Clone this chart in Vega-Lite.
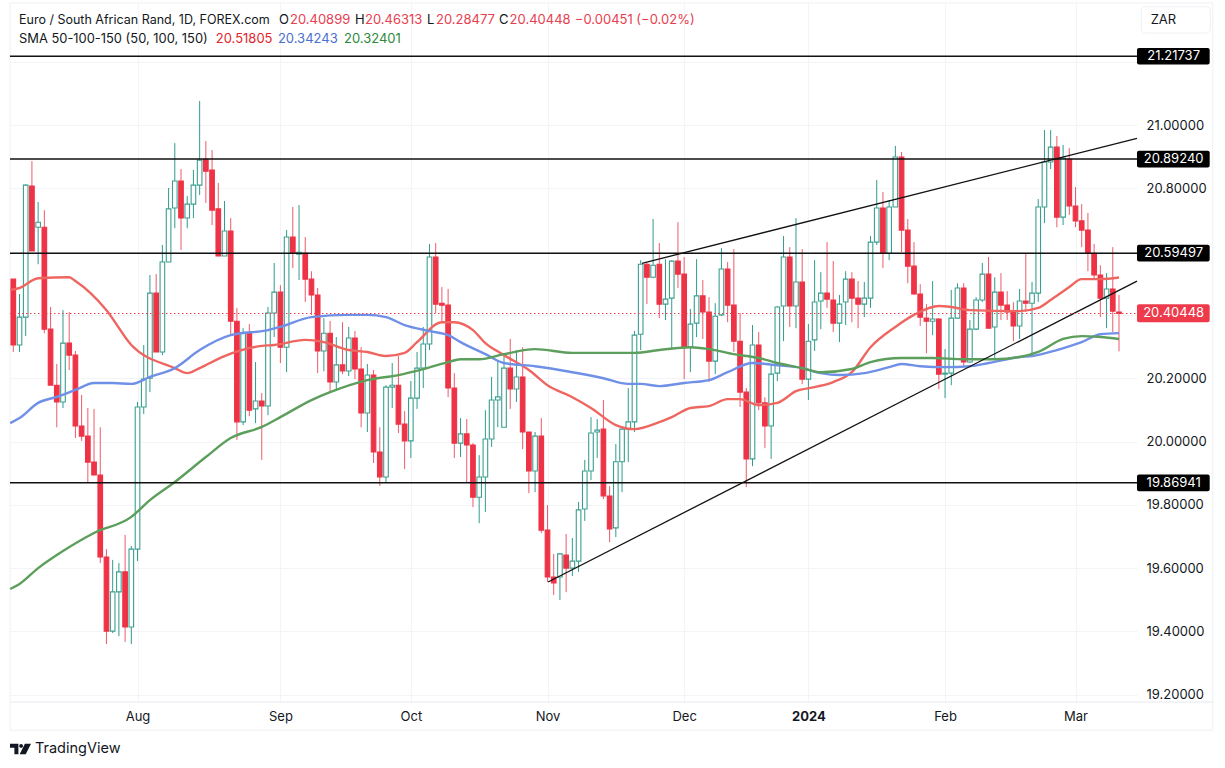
{"$schema":"https://vega.github.io/schema/vega-lite/v6.json","width":1127,"height":699,"autosize":{"type":"none"},"padding":{"left":10,"top":3,"right":88,"bottom":66},"background":"white","view":{"stroke":null},"config":{"font":"Inter","axis":{"labelFont":"Inter","labelFontSize":13,"labelColor":"#131722","gridColor":"#f2f4f8","gridWidth":1,"ticks":false,"domain":false,"title":null}},
"resolve":{"axis":{"x":"independent","y":"independent"}},
"datasets":{
"candles":[
{"i":0,"o":20.513,"h":20.513,"l":20.283,"c":20.305},{"i":1,"o":20.305,"h":20.466,"l":20.283,"c":20.393},{"i":2,"o":20.393,"h":20.813,"l":20.333,"c":20.810},{"i":3,"o":20.807,"h":20.886,"l":20.602,"c":20.602},{"i":4,"o":20.677,"h":20.757,"l":20.560,"c":20.693},{"i":5,"o":20.677,"h":20.731,"l":20.342,"c":20.355},{"i":6,"o":20.355,"h":20.425,"l":20.178,"c":20.178},{"i":7,"o":20.178,"h":20.245,"l":20.045,"c":20.125},{"i":8,"o":20.125,"h":20.415,"l":20.106,"c":20.311},{"i":9,"o":20.311,"h":20.409,"l":20.226,"c":20.273},
{"i":10,"o":20.273,"h":20.286,"l":20.011,"c":20.049},{"i":11,"o":20.049,"h":20.147,"l":20.002,"c":20.017},{"i":12,"o":20.017,"h":20.106,"l":19.872,"c":19.935},{"i":13,"o":19.935,"h":20.103,"l":19.894,"c":19.894},{"i":14,"o":19.894,"h":20.045,"l":19.616,"c":19.635},{"i":15,"o":19.635,"h":19.660,"l":19.360,"c":19.401},{"i":16,"o":19.401,"h":19.626,"l":19.395,"c":19.525},{"i":17,"o":19.525,"h":19.616,"l":19.385,"c":19.588},{"i":18,"o":19.588,"h":19.705,"l":19.367,"c":19.414},{"i":19,"o":19.414,"h":19.670,"l":19.360,"c":19.660},
{"i":20,"o":19.660,"h":20.125,"l":19.622,"c":20.109},{"i":21,"o":20.109,"h":20.305,"l":20.087,"c":20.197},{"i":22,"o":20.200,"h":20.526,"l":20.156,"c":20.469},{"i":23,"o":20.469,"h":20.529,"l":20.283,"c":20.283},{"i":24,"o":20.283,"h":20.621,"l":20.273,"c":20.567},{"i":25,"o":20.567,"h":20.801,"l":20.567,"c":20.735},{"i":26,"o":20.738,"h":20.943,"l":20.674,"c":20.823},{"i":27,"o":20.823,"h":20.861,"l":20.605,"c":20.706},{"i":28,"o":20.706,"h":20.776,"l":20.674,"c":20.750},{"i":29,"o":20.750,"h":20.858,"l":20.706,"c":20.810},
{"i":30,"o":20.810,"h":21.076,"l":20.779,"c":20.889},{"i":31,"o":20.892,"h":20.949,"l":20.754,"c":20.854},{"i":32,"o":20.858,"h":20.921,"l":20.684,"c":20.731},{"i":33,"o":20.735,"h":20.817,"l":20.586,"c":20.586},{"i":34,"o":20.586,"h":20.760,"l":20.586,"c":20.665},{"i":35,"o":20.665,"h":20.706,"l":20.336,"c":20.380},{"i":36,"o":20.380,"h":20.422,"l":20.005,"c":20.062},{"i":37,"o":20.062,"h":20.358,"l":20.052,"c":20.342},{"i":38,"o":20.342,"h":20.371,"l":20.080,"c":20.099},{"i":39,"o":20.103,"h":20.251,"l":20.058,"c":20.128},
{"i":40,"o":20.128,"h":20.153,"l":19.942,"c":20.112},{"i":41,"o":20.112,"h":20.425,"l":20.083,"c":20.406},{"i":42,"o":20.406,"h":20.564,"l":20.330,"c":20.472},{"i":43,"o":20.472,"h":20.494,"l":20.248,"c":20.298},{"i":44,"o":20.298,"h":20.668,"l":20.219,"c":20.646},{"i":45,"o":20.646,"h":20.741,"l":20.548,"c":20.595},{"i":46,"o":20.592,"h":20.747,"l":20.510,"c":20.598},{"i":47,"o":20.595,"h":20.646,"l":20.441,"c":20.513},{"i":48,"o":20.513,"h":20.538,"l":20.400,"c":20.463},{"i":49,"o":20.463,"h":20.485,"l":20.216,"c":20.286},
{"i":50,"o":20.286,"h":20.390,"l":20.222,"c":20.342},{"i":51,"o":20.342,"h":20.381,"l":20.153,"c":20.188},{"i":52,"o":20.188,"h":20.330,"l":20.160,"c":20.242},{"i":53,"o":20.242,"h":20.377,"l":20.213,"c":20.223},{"i":54,"o":20.223,"h":20.362,"l":20.207,"c":20.327},{"i":55,"o":20.327,"h":20.349,"l":20.197,"c":20.229},{"i":56,"o":20.229,"h":20.298,"l":20.045,"c":20.090},{"i":57,"o":20.090,"h":20.245,"l":20.030,"c":20.210},{"i":58,"o":20.210,"h":20.226,"l":19.932,"c":19.967},{"i":59,"o":19.967,"h":20.045,"l":19.860,"c":19.888},
{"i":60,"o":19.888,"h":20.178,"l":19.869,"c":20.172},{"i":61,"o":20.172,"h":20.248,"l":20.106,"c":20.178},{"i":62,"o":20.178,"h":20.270,"l":20.027,"c":20.055},{"i":63,"o":20.055,"h":20.096,"l":19.913,"c":20.002},{"i":64,"o":20.002,"h":20.191,"l":19.948,"c":20.137},{"i":65,"o":20.137,"h":20.283,"l":20.103,"c":20.232},{"i":66,"o":20.232,"h":20.362,"l":20.169,"c":20.308},{"i":67,"o":20.308,"h":20.624,"l":20.289,"c":20.583},{"i":68,"o":20.583,"h":20.627,"l":20.406,"c":20.434},{"i":69,"o":20.437,"h":20.488,"l":20.374,"c":20.431},
{"i":70,"o":20.431,"h":20.482,"l":20.140,"c":20.169},{"i":71,"o":20.169,"h":20.216,"l":19.948,"c":19.995},{"i":72,"o":19.995,"h":20.074,"l":19.951,"c":20.024},{"i":73,"o":20.024,"h":20.071,"l":19.869,"c":19.989},{"i":74,"o":19.989,"h":19.995,"l":19.793,"c":19.824},{"i":75,"o":19.824,"h":19.957,"l":19.742,"c":19.888},{"i":76,"o":19.888,"h":20.099,"l":19.777,"c":20.008},{"i":77,"o":20.008,"h":20.204,"l":19.983,"c":20.131},{"i":78,"o":20.131,"h":20.257,"l":20.045,"c":20.141},{"i":79,"o":20.045,"h":20.276,"l":20.045,"c":20.232},
{"i":80,"o":20.232,"h":20.324,"l":20.103,"c":20.166},{"i":81,"o":20.166,"h":20.289,"l":20.125,"c":20.204},{"i":82,"o":20.204,"h":20.298,"l":19.976,"c":20.030},{"i":83,"o":20.030,"h":20.030,"l":19.837,"c":19.907},{"i":84,"o":19.907,"h":20.030,"l":19.840,"c":20.017},{"i":85,"o":20.017,"h":20.074,"l":19.711,"c":19.720},{"i":86,"o":19.720,"h":19.799,"l":19.556,"c":19.572},{"i":87,"o":19.572,"h":19.645,"l":19.515,"c":19.553},{"i":88,"o":19.572,"h":19.648,"l":19.499,"c":19.645},{"i":89,"o":19.641,"h":19.708,"l":19.524,"c":19.600},
{"i":90,"o":19.600,"h":19.695,"l":19.575,"c":19.622},{"i":91,"o":19.622,"h":19.809,"l":19.588,"c":19.784},{"i":92,"o":19.787,"h":19.942,"l":19.749,"c":19.907},{"i":93,"o":19.907,"h":20.077,"l":19.878,"c":20.027},{"i":94,"o":20.030,"h":20.071,"l":19.948,"c":20.036},{"i":95,"o":20.039,"h":20.131,"l":19.818,"c":19.828},{"i":96,"o":19.828,"h":19.859,"l":19.682,"c":19.724},{"i":97,"o":19.727,"h":19.992,"l":19.698,"c":19.936},{"i":98,"o":19.936,"h":20.042,"l":19.840,"c":20.039},{"i":99,"o":20.039,"h":20.169,"l":19.935,"c":20.062},
{"i":100,"o":20.062,"h":20.349,"l":20.030,"c":20.336},{"i":101,"o":20.339,"h":20.573,"l":20.289,"c":20.560},{"i":102,"o":20.560,"h":20.564,"l":20.434,"c":20.519},{"i":103,"o":20.519,"h":20.703,"l":20.516,"c":20.557},{"i":104,"o":20.560,"h":20.627,"l":20.390,"c":20.434},{"i":105,"o":20.434,"h":20.576,"l":20.384,"c":20.450},{"i":106,"o":20.453,"h":20.573,"l":20.295,"c":20.570},{"i":107,"o":20.570,"h":20.693,"l":20.485,"c":20.529},{"i":108,"o":20.529,"h":20.583,"l":20.197,"c":20.298},{"i":109,"o":20.298,"h":20.419,"l":20.219,"c":20.371},
{"i":110,"o":20.374,"h":20.576,"l":20.330,"c":20.460},{"i":111,"o":20.460,"h":20.510,"l":20.324,"c":20.409},{"i":112,"o":20.409,"h":20.456,"l":20.188,"c":20.254},{"i":113,"o":20.254,"h":20.437,"l":20.213,"c":20.396},{"i":114,"o":20.400,"h":20.611,"l":20.396,"c":20.545},{"i":115,"o":20.545,"h":20.567,"l":20.377,"c":20.431},{"i":116,"o":20.431,"h":20.608,"l":20.283,"c":20.317},{"i":117,"o":20.317,"h":20.406,"l":20.109,"c":20.156},{"i":118,"o":20.156,"h":20.169,"l":19.856,"c":19.945},{"i":119,"o":19.945,"h":20.368,"l":19.922,"c":20.305},
{"i":120,"o":20.305,"h":20.346,"l":20.099,"c":20.122},{"i":121,"o":20.122,"h":20.140,"l":19.979,"c":20.049},{"i":122,"o":20.049,"h":20.242,"l":19.945,"c":20.213},{"i":123,"o":20.216,"h":20.428,"l":20.191,"c":20.425},{"i":124,"o":20.428,"h":20.649,"l":20.317,"c":20.583},{"i":125,"o":20.583,"h":20.614,"l":20.362,"c":20.428},{"i":126,"o":20.428,"h":20.706,"l":20.358,"c":20.504},{"i":127,"o":20.504,"h":20.608,"l":20.181,"c":20.197},{"i":128,"o":20.197,"h":20.371,"l":20.131,"c":20.317},{"i":129,"o":20.321,"h":20.573,"l":20.286,"c":20.441},
{"i":130,"o":20.444,"h":20.535,"l":20.355,"c":20.469},{"i":131,"o":20.469,"h":20.630,"l":20.422,"c":20.450},{"i":132,"o":20.447,"h":20.570,"l":20.346,"c":20.374},{"i":133,"o":20.374,"h":20.463,"l":20.314,"c":20.434},{"i":134,"o":20.441,"h":20.538,"l":20.368,"c":20.513},{"i":135,"o":20.513,"h":20.535,"l":20.377,"c":20.453},{"i":136,"o":20.453,"h":20.507,"l":20.358,"c":20.434},{"i":137,"o":20.434,"h":20.504,"l":20.393,"c":20.453},{"i":138,"o":20.453,"h":20.649,"l":20.422,"c":20.630},{"i":139,"o":20.630,"h":20.826,"l":20.621,"c":20.738},
{"i":140,"o":20.738,"h":20.788,"l":20.548,"c":20.595},{"i":141,"o":20.595,"h":20.763,"l":20.573,"c":20.741},{"i":142,"o":20.741,"h":20.934,"l":20.741,"c":20.899},{"i":143,"o":20.899,"h":20.915,"l":20.598,"c":20.668},{"i":144,"o":20.668,"h":20.703,"l":20.500,"c":20.554},{"i":145,"o":20.554,"h":20.630,"l":20.463,"c":20.466},{"i":146,"o":20.466,"h":20.497,"l":20.365,"c":20.393},{"i":147,"o":20.390,"h":20.434,"l":20.279,"c":20.380},{"i":148,"o":20.380,"h":20.507,"l":20.336,"c":20.387},{"i":149,"o":20.387,"h":20.390,"l":20.166,"c":20.213},
{"i":150,"o":20.213,"h":20.292,"l":20.137,"c":20.216},{"i":151,"o":20.216,"h":20.479,"l":20.178,"c":20.390},{"i":152,"o":20.390,"h":20.500,"l":20.390,"c":20.485},{"i":153,"o":20.485,"h":20.500,"l":20.235,"c":20.251},{"i":154,"o":20.251,"h":20.384,"l":20.248,"c":20.355},{"i":155,"o":20.355,"h":20.456,"l":20.352,"c":20.447},{"i":156,"o":20.447,"h":20.564,"l":20.441,"c":20.529},{"i":157,"o":20.529,"h":20.583,"l":20.358,"c":20.358},{"i":158,"o":20.362,"h":20.519,"l":20.260,"c":20.472},{"i":159,"o":20.472,"h":20.532,"l":20.384,"c":20.431},
{"i":160,"o":20.431,"h":20.475,"l":20.384,"c":20.409},{"i":161,"o":20.409,"h":20.440,"l":20.317,"c":20.365},{"i":162,"o":20.365,"h":20.482,"l":20.324,"c":20.444},{"i":163,"o":20.444,"h":20.595,"l":20.409,"c":20.437},{"i":164,"o":20.437,"h":20.504,"l":20.270,"c":20.469},{"i":165,"o":20.469,"h":20.766,"l":20.441,"c":20.741},{"i":166,"o":20.741,"h":20.984,"l":20.690,"c":20.883},{"i":167,"o":20.883,"h":20.984,"l":20.861,"c":20.930},{"i":168,"o":20.930,"h":20.965,"l":20.677,"c":20.709},{"i":169,"o":20.709,"h":20.937,"l":20.684,"c":20.896},
{"i":170,"o":20.892,"h":20.927,"l":20.716,"c":20.744},{"i":171,"o":20.744,"h":20.804,"l":20.677,"c":20.697},{"i":172,"o":20.697,"h":20.750,"l":20.614,"c":20.668},{"i":173,"o":20.668,"h":20.722,"l":20.538,"c":20.595},{"i":174,"o":20.595,"h":20.624,"l":20.513,"c":20.526},{"i":175,"o":20.526,"h":20.557,"l":20.393,"c":20.453},{"i":176,"o":20.453,"h":20.532,"l":20.358,"c":20.482},{"i":177,"o":20.482,"h":20.614,"l":20.346,"c":20.412},{"i":178,"o":20.40899,"h":20.46313,"l":20.28477,"c":20.40448}
],
"sma":[
{"s":"50","i":-0.5,"p":20.479},{"s":"50","i":1,"p":20.485},{"s":"50","i":4,"p":20.516},{"s":"50","i":9,"p":20.519},{"s":"50","i":10,"p":20.507},{"s":"50","i":15,"p":20.415},{"s":"50","i":19,"p":20.305},{"s":"50","i":26,"p":20.232},{"s":"50","i":28,"p":20.216},{"s":"50","i":30,"p":20.232},{"s":"50","i":34,"p":20.270},{"s":"50","i":40,"p":20.302},{"s":"50","i":42,"p":20.305},{"s":"50","i":47,"p":20.321},{"s":"50","i":50,"p":20.314},{"s":"50","i":54,"p":20.289},{"s":"50","i":57,"p":20.283},{"s":"50","i":60,"p":20.270},{"s":"50","i":63,"p":20.280},{"s":"50","i":65,"p":20.314},{"s":"50","i":69,"p":20.377},{"s":"50","i":71,"p":20.377},{"s":"50","i":74,"p":20.352},{"s":"50","i":76,"p":20.311},{"s":"50","i":79,"p":20.273},{"s":"50","i":83,"p":20.226},{"s":"50","i":86,"p":20.178},{"s":"50","i":90,"p":20.140},{"s":"50","i":93,"p":20.106},{"s":"50","i":97,"p":20.052},{"s":"50","i":100,"p":20.039},{"s":"50","i":104,"p":20.061},{"s":"50","i":106,"p":20.077},{"s":"50","i":109,"p":20.106},{"s":"50","i":112,"p":20.112},{"s":"50","i":115,"p":20.134},{"s":"50","i":117,"p":20.134},{"s":"50","i":120,"p":20.115},{"s":"50","i":123,"p":20.122},{"s":"50","i":126,"p":20.159},{"s":"50","i":129,"p":20.172},{"s":"50","i":132,"p":20.188},{"s":"50","i":135,"p":20.219},{"s":"50","i":138,"p":20.298},{"s":"50","i":142,"p":20.362},{"s":"50","i":145,"p":20.400},{"s":"50","i":149,"p":20.428},{"s":"50","i":151,"p":20.425},{"s":"50","i":154,"p":20.415},{"s":"50","i":162,"p":20.412},{"s":"50","i":165,"p":20.422},{"s":"50","i":167,"p":20.447},{"s":"50","i":170,"p":20.488},{"s":"50","i":172,"p":20.513},{"s":"50","i":175,"p":20.513},{"s":"50","i":178,"p":20.51805},
{"s":"100","i":-0.5,"p":20.058},{"s":"100","i":1,"p":20.074},{"s":"100","i":4,"p":20.122},{"s":"100","i":7,"p":20.141},{"s":"100","i":10,"p":20.163},{"s":"100","i":13,"p":20.185},{"s":"100","i":16,"p":20.185},{"s":"100","i":19,"p":20.182},{"s":"100","i":22,"p":20.204},{"s":"100","i":26,"p":20.232},{"s":"100","i":30,"p":20.289},{"s":"100","i":35,"p":20.336},{"s":"100","i":41,"p":20.352},{"s":"100","i":43,"p":20.362},{"s":"100","i":48,"p":20.393},{"s":"100","i":54,"p":20.400},{"s":"100","i":57,"p":20.400},{"s":"100","i":60,"p":20.393},{"s":"100","i":63,"p":20.368},{"s":"100","i":67,"p":20.349},{"s":"100","i":70,"p":20.336},{"s":"100","i":72,"p":20.314},{"s":"100","i":76,"p":20.276},{"s":"100","i":79,"p":20.248},{"s":"100","i":84,"p":20.238},{"s":"100","i":90,"p":20.219},{"s":"100","i":95,"p":20.200},{"s":"100","i":99,"p":20.182},{"s":"100","i":101,"p":20.182},{"s":"100","i":104,"p":20.175},{"s":"100","i":108,"p":20.185},{"s":"100","i":112,"p":20.194},{"s":"100","i":115,"p":20.219},{"s":"100","i":119,"p":20.248},{"s":"100","i":123,"p":20.241},{"s":"100","i":127,"p":20.232},{"s":"100","i":130,"p":20.216},{"s":"100","i":133,"p":20.210},{"s":"100","i":137,"p":20.216},{"s":"100","i":141,"p":20.235},{"s":"100","i":143,"p":20.245},{"s":"100","i":146,"p":20.238},{"s":"100","i":150,"p":20.235},{"s":"100","i":154,"p":20.238},{"s":"100","i":157,"p":20.248},{"s":"100","i":162,"p":20.267},{"s":"100","i":164,"p":20.270},{"s":"100","i":168,"p":20.289},{"s":"100","i":172,"p":20.314},{"s":"100","i":175,"p":20.339},{"s":"100","i":178,"p":20.34243},
{"s":"150","i":-0.5,"p":19.534},{"s":"150","i":1,"p":19.550},{"s":"150","i":4,"p":19.600},{"s":"150","i":8,"p":19.654},{"s":"150","i":13,"p":19.711},{"s":"150","i":19,"p":19.762},{"s":"150","i":22,"p":19.815},{"s":"150","i":26,"p":19.872},{"s":"150","i":31,"p":19.951},{"s":"150","i":35,"p":20.011},{"s":"150","i":40,"p":20.046},{"s":"150","i":43,"p":20.077},{"s":"150","i":48,"p":20.131},{"s":"150","i":51,"p":20.156},{"s":"150","i":57,"p":20.194},{"s":"150","i":62,"p":20.210},{"s":"150","i":66,"p":20.229},{"s":"150","i":70,"p":20.251},{"s":"150","i":72,"p":20.260},{"s":"150","i":75,"p":20.260},{"s":"150","i":79,"p":20.276},{"s":"150","i":84,"p":20.292},{"s":"150","i":90,"p":20.280},{"s":"150","i":95,"p":20.280},{"s":"150","i":100,"p":20.280},{"s":"150","i":104,"p":20.289},{"s":"150","i":109,"p":20.298},{"s":"150","i":112,"p":20.292},{"s":"150","i":116,"p":20.276},{"s":"150","i":120,"p":20.264},{"s":"150","i":123,"p":20.248},{"s":"150","i":127,"p":20.232},{"s":"150","i":130,"p":20.219},{"s":"150","i":135,"p":20.229},{"s":"150","i":138,"p":20.251},{"s":"150","i":143,"p":20.264},{"s":"150","i":148,"p":20.264},{"s":"150","i":153,"p":20.260},{"s":"150","i":158,"p":20.260},{"s":"150","i":162,"p":20.267},{"s":"150","i":165,"p":20.283},{"s":"150","i":169,"p":20.324},{"s":"150","i":172,"p":20.333},{"s":"150","i":175,"p":20.330},{"s":"150","i":178,"p":20.32401}
],
"levels":[
{"a":-0.53,"b":180.9,"e":192.6,"m":186.8,"p":21.21737,"top":21.2437,"bot":21.1911},
{"a":-0.53,"b":180.9,"e":192.6,"m":186.8,"p":20.8924,"top":20.9187,"bot":20.8661},
{"a":-0.53,"b":180.9,"e":192.6,"m":186.8,"p":20.59497,"top":20.6213,"bot":20.5687},
{"a":-0.53,"b":180.9,"e":192.6,"m":186.8,"p":19.86941,"top":19.8957,"bot":19.8431}
],
"last":[{"a":-0.53,"b":180.9,"e":192.6,"m":186.8,"p":20.40448,"top":20.4335,"bot":20.3767}],
"trends":[{"i":101.2,"p":20.563,"i2":180.9,"p2":20.958},{"i":86.1,"p":19.556,"i2":180.9,"p2":20.507}],
"frame":[{"a":-0.53,"b":193.1,"top":21.3855,"bot":19.088,"mid":19.177}],
"zar":[{"a":181.6,"b":192.7,"top":21.3738,"bot":21.2907,"i":183.1,"p":21.3318,"t":"ZAR"}],
"header":[
{"i":0.92,"p":21.3318,"t":"Euro / South African Rand, 1D, FOREX.com","s":"text"},
{"i":42.77,"p":21.3318,"t":"O","s":"text"},{"i":44.54,"p":21.3318,"t":"20.40899","s":"value"},
{"i":55.0,"p":21.3318,"t":"H","s":"text"},{"i":56.62,"p":21.3318,"t":"20.46313","s":"value"},
{"i":66.6,"p":21.3318,"t":"L","s":"text"},{"i":68.05,"p":21.3318,"t":"20.28477","s":"value"},
{"i":78.2,"p":21.3318,"t":"C","s":"text"},{"i":79.9,"p":21.3318,"t":"20.40448","s":"value"},
{"i":90.4,"p":21.3318,"t":"−0.00451 (−0.02%)","s":"value"},
{"i":0.92,"p":21.2717,"t":"SMA 50-100-150 (50, 100, 150)","s":"text"},
{"i":32.6,"p":21.2717,"t":"20.51805","s":"50"},{"i":42.6,"p":21.2717,"t":"20.34243","s":"100"},{"i":53.24,"p":21.2717,"t":"20.32401","s":"150"}
],
"brand":[{"i":3.49,"p":19.0284,"t":"TradingView"}],
"logo":[{"i":1.16,"p":19.0284}]
},
"layer":[
{"data":{"name":"frame"},"mark":{"type":"rect","fillOpacity":0,"stroke":"#eef0f4","strokeWidth":1},
"encoding":{
"x":{"field":"a","type":"quantitative","scale":{"domain":[-0.53,180.9],"nice":false,"zero":false,"padding":0},
"axis":{"orient":"bottom","grid":true,"values":[20,43,64,86,108,128,150,171],"labelExpr":"{20:'Aug',43:'Sep',64:'Oct',86:'Nov',108:'Dec',128:'2024',150:'Feb',171:'Mar'}[datum.value]","labelPadding":8,"labelFontWeight":{"condition":{"test":"datum.value==128","value":"bold"},"value":"normal"}}},
"x2":{"field":"b"},
"y":{"field":"top","type":"quantitative","scale":{"domain":[19.177,21.3855],"nice":false,"zero":false},
"axis":{"orient":"right","grid":true,"values":[19.2,19.4,19.6,19.8,20,20.2,20.4,20.6,20.8,21,21.2],"labelExpr":"abs(datum.value-20.6)<0.01||abs(datum.value-20.4)<0.01||abs(datum.value-21.2)<0.01?'':format(datum.value,'.5f')","labelPadding":9}},
"y2":{"field":"bot"}}},
{"data":{"name":"frame"},"mark":{"type":"rule","color":"#e6e8ee","strokeWidth":1},"encoding":{"x":{"field":"a","type":"quantitative","axis":null},"x2":{"field":"b"},"y":{"field":"mid","type":"quantitative","axis":null}}},
{"data":{"name":"candles"},"mark":{"type":"rule","strokeWidth":1},"encoding":{"x":{"field":"i","type":"quantitative","axis":null},"y":{"field":"l","type":"quantitative","axis":null},"y2":{"field":"h"},
"stroke":{"condition":{"test":"datum.c>=datum.o","value":"#2f9c8c"},"value":"#ee5a69"}}},
{"data":{"name":"candles"},"mark":{"type":"bar","size":4.6,"strokeWidth":1.1},"encoding":{"x":{"field":"i","type":"quantitative","axis":null},"y":{"field":"o","type":"quantitative","axis":null},"y2":{"field":"c"},
"fill":{"condition":{"test":"datum.c>=datum.o","value":"white"},"value":"#ee3346"},
"stroke":{"condition":{"test":"datum.c>=datum.o","value":"#3b9f90"},"value":"#ee3346"}}},
{"data":{"name":"sma"},"mark":{"type":"line","strokeWidth":2.4,"interpolate":"monotone"},"encoding":{"x":{"field":"i","type":"quantitative","axis":null},"y":{"field":"p","type":"quantitative","axis":null},"detail":{"field":"s"},
"stroke":{"field":"s","type":"nominal","legend":null,"scale":{"domain":["50","100","150"],"range":["#ef6661","#7090e8","#5c9e5c"]}}}},
{"data":{"name":"levels"},"mark":{"type":"rule","color":"#111111","strokeWidth":1.5},"encoding":{"x":{"field":"a","type":"quantitative","axis":null},"x2":{"field":"b"},"y":{"field":"p","type":"quantitative","axis":null}}},
{"data":{"name":"trends"},"mark":{"type":"rule","color":"#111111","strokeWidth":1.3},"encoding":{"x":{"field":"i","type":"quantitative","axis":null},"x2":{"field":"i2"},"y":{"field":"p","type":"quantitative","axis":null},"y2":{"field":"p2"}}},
{"data":{"name":"last"},"mark":{"type":"rule","color":"#e8404f","strokeWidth":1.2,"strokeDash":[1.5,2.5]},"encoding":{"x":{"field":"a","type":"quantitative","axis":null},"x2":{"field":"b"},"y":{"field":"p","type":"quantitative","axis":null}}},
{"data":{"name":"levels"},"mark":{"type":"rect","color":"#000000","cornerRadius":2},"encoding":{"x":{"field":"b","type":"quantitative","axis":null},"x2":{"field":"e"},"y":{"field":"top","type":"quantitative","axis":null},"y2":{"field":"bot"}}},
{"data":{"name":"levels"},"mark":{"type":"text","color":"white","fontSize":13,"font":"Inter","align":"center","baseline":"middle"},"encoding":{"x":{"field":"m","type":"quantitative","axis":null},"y":{"field":"p","type":"quantitative","axis":null},"text":{"field":"p","type":"quantitative","format":".5f"}}},
{"data":{"name":"last"},"mark":{"type":"rect","color":"#ef3a4c","cornerRadius":2},"encoding":{"x":{"field":"b","type":"quantitative","axis":null},"x2":{"field":"e"},"y":{"field":"top","type":"quantitative","axis":null},"y2":{"field":"bot"}}},
{"data":{"name":"last"},"mark":{"type":"text","color":"white","fontSize":13,"font":"Inter","align":"center","baseline":"middle"},"encoding":{"x":{"field":"m","type":"quantitative","axis":null},"y":{"field":"p","type":"quantitative","axis":null},"text":{"field":"p","type":"quantitative","format":".5f"}}},
{"data":{"name":"zar"},"mark":{"type":"rect","fill":"white","stroke":"#eef0f4","cornerRadius":4},"encoding":{"x":{"field":"a","type":"quantitative","axis":null},"x2":{"field":"b"},"y":{"field":"top","type":"quantitative","axis":null},"y2":{"field":"bot"}}},
{"data":{"name":"zar"},"mark":{"type":"text","color":"#131722","fontSize":13,"font":"Inter","align":"left","baseline":"middle"},"encoding":{"x":{"field":"i","type":"quantitative","axis":null},"y":{"field":"p","type":"quantitative","axis":null},"text":{"field":"t"}}},
{"data":{"name":"header"},"mark":{"type":"text","font":"Inter","align":"left","baseline":"middle"},"encoding":{"x":{"field":"i","type":"quantitative","axis":null},"y":{"field":"p","type":"quantitative","axis":null},"text":{"field":"t"},
"size":{"condition":[{"test":"length(datum.t)>35","value":12.5},{"test":"length(datum.t)>20","value":12.9}],"value":13},
"fill":{"field":"s","type":"nominal","legend":null,"scale":{"domain":["text","value","50","100","150"],"range":["#131722","#e8404f","#e3242b","#4a6fd0","#2b8a3a"]}}}},
{"data":{"name":"brand"},"mark":{"type":"text","color":"#131722","fontSize":14.5,"font":"Inter","align":"left","baseline":"middle"},"encoding":{"x":{"field":"i","type":"quantitative","axis":null},"y":{"field":"p","type":"quantitative","axis":null},"text":{"field":"t"}}},
{"data":{"name":"logo"},"mark":{"type":"point","filled":true,"opacity":1,"color":"#131722","size":441,"shape":"M-1,-0.5H-0.2V0.5H-0.58V-0.12H-1ZM-0.12,-0.3a0.18,0.18 0 1,0 0.36,0a0.18,0.18 0 1,0 -0.36,0ZM0.42,-0.5H1L0.5,0.5H-0.08Z"},"encoding":{"x":{"field":"i","type":"quantitative","axis":null},"y":{"field":"p","type":"quantitative","axis":null}}}
]}
